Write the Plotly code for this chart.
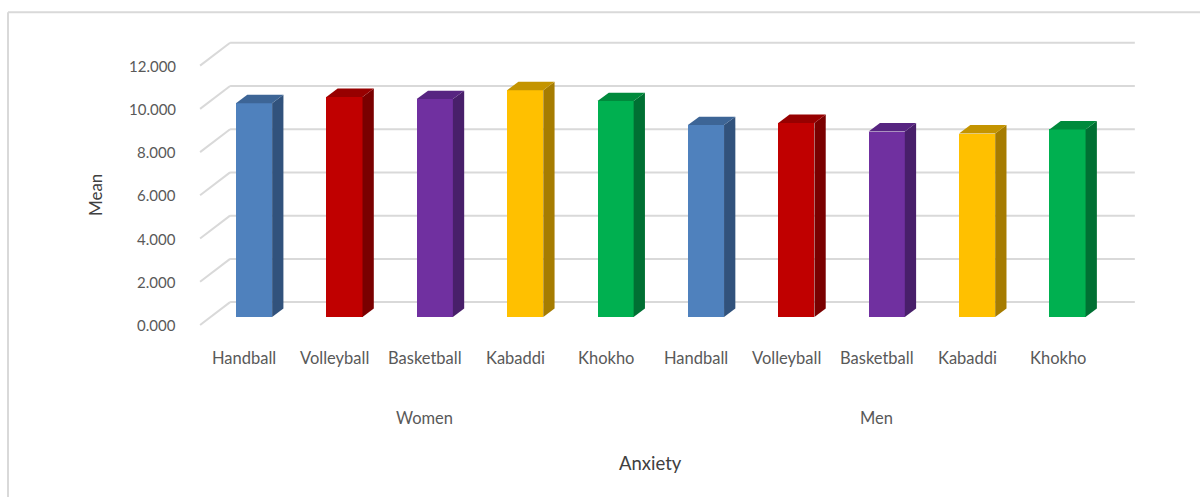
import plotly.graph_objects as go

# ---- data ----
groups = ["Women", "Women", "Women", "Women", "Women", "Men", "Men", "Men", "Men", "Men"]
sports = ["Handball", "Volleyball", "Basketball", "Kabaddi", "Khokho",
          "Handball", "Volleyball", "Basketball", "Kabaddi", "Khokho"]
means = [9.89, 10.18, 10.08, 10.49, 9.99, 8.88, 8.98, 8.58, 8.49, 8.68]
y_ticks = [0, 2, 4, 6, 8, 10, 12]
y_tick_labels = ["0.000", "2.000", "4.000", "6.000", "8.000", "10.000", "12.000"]
group_names = ["Women", "Men"]
x_title = "Anxiety"
y_title = "Mean"

# ---- styles ----
front_cols = {"Handball": "#4F81BD", "Volleyball": "#C00000", "Basketball": "#7030A0",
              "Kabaddi": "#FFC000", "Khokho": "#00B050"}
side_cols = {"Handball": "#31527C", "Volleyball": "#7A0000", "Basketball": "#481F6A",
             "Kabaddi": "#A67C00", "Khokho": "#007033"}
top_cols = {"Handball": "#3D6596", "Volleyball": "#970000", "Basketball": "#572581",
            "Kabaddi": "#C49400", "Khokho": "#008A3C"}
FONT = "Lato"
TICK_COL = "#595959"
GRID_COL = "#D9D9D9"

bar_w = 0.4
dx, dy = 0.125, 0.39           # bar depth offset (x units, y units)
front_dy = -0.37               # floor front edge relative to bar plane
back_dy = 0.69
back_x0, back_x1 = -0.265, 9.745

xs = list(range(len(means)))
fig = go.Figure()

# front faces
fig.add_trace(go.Bar(
    x=xs, y=means, width=bar_w,
    marker=dict(color=[front_cols[s] for s in sports], line=dict(width=0)),
    showlegend=False, hoverinfo="skip"))

# side and top faces
for i, (s, v) in enumerate(zip(sports, means)):
    r = i + bar_w / 2
    l = i - bar_w / 2
    fig.add_trace(go.Scatter(
        x=[r, r + dx, r + dx, r, r], y=[0, dy, v + dy, v, 0],
        fill="toself", fillcolor=side_cols[s], mode="lines",
        line=dict(width=0), showlegend=False, hoverinfo="skip"))
    fig.add_trace(go.Scatter(
        x=[l, r, r + dx, l + dx, l], y=[v, v, v + dy, v + dy, v],
        fill="toself", fillcolor=top_cols[s], mode="lines",
        line=dict(width=0), showlegend=False, hoverinfo="skip"))

shapes = []
annotations = []
# gridlines: back wall + diagonal floor edge
for t, lab in zip(y_ticks, y_tick_labels):
    shapes.append(dict(type="line", xref="x", yref="y", layer="below",
                       x0=back_x0, x1=back_x1, y0=t + back_dy, y1=t + back_dy,
                       line=dict(color=GRID_COL, width=2)))
    shapes.append(dict(type="line", xref="x", yref="y", layer="below",
                       x0=-0.597, x1=back_x0, y0=t + front_dy, y1=t + back_dy,
                       line=dict(color=GRID_COL, width=2)))
    annotations.append(dict(text=lab, xref="paper", yref="y", x=0, y=t + front_dy,
                            xanchor="right", yanchor="middle", xshift=-20,
                            showarrow=False, font=dict(family=FONT, size=15, color=TICK_COL)))

# category labels
for i, s in enumerate(sports):
    annotations.append(dict(text=s, xref="x", yref="paper", x=i - 0.11, y=0,
                            yshift=-28, xanchor="center", yanchor="middle",
                            showarrow=False, font=dict(family=FONT, size=16.5, color=TICK_COL)))
for gi, g in enumerate(group_names):
    idx = [i for i, gg in enumerate(groups) if gg == g]
    cx = sum(idx) / len(idx) - 0.11
    annotations.append(dict(text=g, xref="x", yref="paper", x=cx, y=0,
                            yshift=-88, xanchor="center", yanchor="middle",
                            showarrow=False, font=dict(family=FONT, size=16.5, color=TICK_COL)))

annotations.append(dict(text=x_title, xref="paper", yref="paper", x=(651 - 198) / 940.1, y=0,
                        yshift=-133, xanchor="center", yanchor="middle", showarrow=False,
                        font=dict(family=FONT, size=18.5, color="#404040")))
annotations.append(dict(text=y_title, xref="paper", yref="paper", x=(95 - 198) / 940.1,
                        y=(330 - 195) / 294.2, xanchor="center", yanchor="middle", textangle=-90,
                        showarrow=False, font=dict(family=FONT, size=17, color="#404040")))

# chart outer border (left + top)
shapes.append(dict(type="line", xref="paper", yref="paper",
                   x0=(8 - 198) / 940.1, x1=(8 - 198) / 940.1,
                   y0=(330 - 12) / 294.2, y1=(330 - 520) / 294.2,
                   line=dict(color=GRID_COL, width=2)))
shapes.append(dict(type="line", xref="paper", yref="paper",
                   x0=(8 - 198) / 940.1, x1=(1220 - 198) / 940.1,
                   y0=(330 - 12) / 294.2, y1=(330 - 12) / 294.2,
                   line=dict(color=GRID_COL, width=2)))

fig.update_layout(
    width=1200, height=497,
    margin=dict(l=198, r=62, t=36, b=167),
    paper_bgcolor="white", plot_bgcolor="white",
    xaxis=dict(range=[-0.62, 9.78], showgrid=False, zeroline=False,
               showticklabels=False, ticks="", fixedrange=True),
    yaxis=dict(range=[-0.6, 13.0], showgrid=False, zeroline=False,
               showticklabels=False, ticks="", fixedrange=True),
    shapes=shapes, annotations=annotations, bargap=0,
)

fig.write_html("out.html")
